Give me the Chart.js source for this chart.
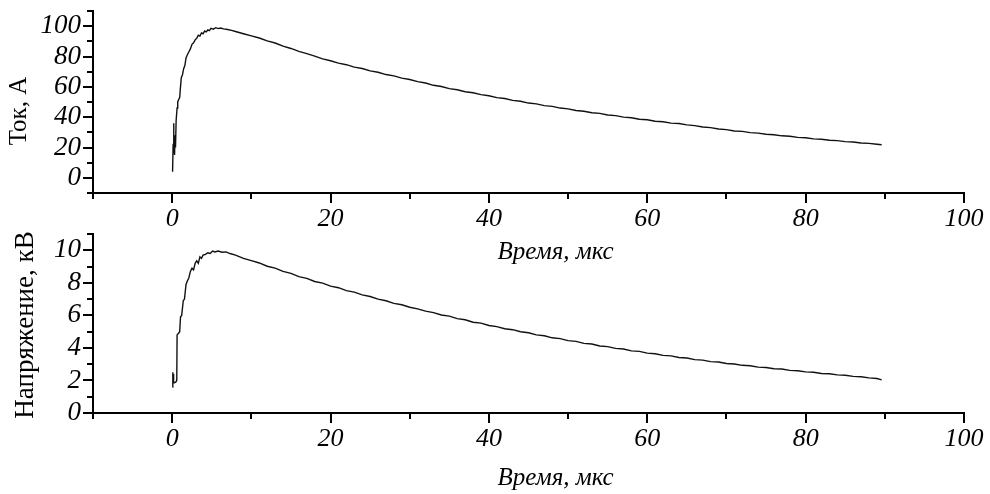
<!DOCTYPE html>
<html>
<head>
<meta charset="utf-8">
<script src="https://cdn.jsdelivr.net/npm/chart.js@4.4.1/dist/chart.umd.min.js"></script>
<style>
  html, body { margin: 0; padding: 0; background: #fff; }
  .box { position: absolute; left: 0; width: 990px; height: 272px; }
  #topBox { top: 0; }
  #bottomBox { top: 222px; }
</style>
</head>
<body>
<div class="box" id="topBox"><canvas id="currentChart"></canvas></div>
<div class="box" id="bottomBox"><canvas id="voltageChart"></canvas></div>
<script>
// Ток, А (время в мкс)
const currentTime = [0.05, 0.12, 0.18, 0.22, 0.3, 0.36, 0.42, 0.5, 0.62, 0.7, 0.85, 0.95, 1.05, 1.15, 1.3, 1.45, 1.6, 1.75, 1.9, 2.1,
  2.3, 2.5, 2.7, 2.9, 3.1, 3.3, 3.5, 3.7, 3.9, 4.1, 4.3, 4.5, 4.7, 4.9, 5.2, 5.5, 5.8, 6.1, 6.5, 7, 7.5, 8,
  9, 10, 11, 12, 13, 14, 15, 16, 17, 18, 19, 20, 21, 22, 23, 24, 25, 26, 27, 28, 29, 30, 31, 32, 33, 34, 35,
  36, 37, 38, 39, 40, 41, 42, 43, 44, 45, 46, 47, 48, 49, 50, 51, 52, 53, 54, 55, 56, 57, 58, 59, 60, 61, 62,
  63, 64, 65, 66, 67, 68, 69, 70, 71, 72, 73, 74, 75, 76, 77, 78, 79, 80, 81, 82, 83, 84, 85, 86, 87, 88, 89, 89.6];
const currentValues = [4, 22, 36, 24, 15, 28, 20, 38, 46, 50, 52, 53, 60, 66, 68, 72, 74, 79, 81, 83,
  85, 88, 89, 91, 92, 94, 93.5, 95.5, 95, 96.8, 96.2, 97.5, 97, 98.5, 98, 99, 98.4, 98.8, 98.2, 97.8, 97.2, 96.5,
  95.0, 93.6, 92.2, 90.3, 88.9, 86.8, 85.3, 83.4, 81.9, 80.3, 78.4, 77.2, 75.6, 74.6, 73.0, 72.1, 70.5, 69.6, 68.1, 67.2, 65.7, 64.8, 63.4, 62.5, 61.0, 60.2, 58.8,
  58.1, 56.8, 56.1, 54.9, 54.1, 52.9, 52.3, 51.1, 50.5, 49.3, 48.8, 47.6, 47.1, 46.0, 45.5, 44.4, 43.9, 42.9, 42.5, 41.4, 41.0, 40.0, 39.6, 38.6, 38.3, 37.3, 37.0,
  36.1, 35.8, 34.9, 34.4, 33.5, 33.1, 32.2, 31.8, 30.9, 30.6, 29.8, 29.5, 28.7, 28.4, 27.7, 27.4, 26.7, 26.4, 25.7, 25.4, 24.8, 24.5, 23.9, 23.6, 23.0, 22.7, 22.1, 21.8];

// Напряжение, кВ
const voltageTime = [0.02, 0.08, 0.12, 0.16, 0.2, 0.45, 0.58, 0.62, 0.8, 0.95, 1.05, 1.2, 1.4, 1.55, 1.75, 1.9, 2.1, 2.3, 2.5, 2.7,
  2.9, 3.1, 3.3, 3.5, 3.7, 3.9, 4.2, 4.5, 4.8, 5.1, 5.4, 5.8, 6.3, 6.8, 7.3, 8,
  9, 10, 11, 12, 13, 14, 15, 16, 17, 18, 19, 20, 21, 22, 23, 24, 25, 26, 27, 28, 29, 30, 31, 32, 33, 34, 35,
  36, 37, 38, 39, 40, 41, 42, 43, 44, 45, 46, 47, 48, 49, 50, 51, 52, 53, 54, 55, 56, 57, 58, 59, 60, 61, 62,
  63, 64, 65, 66, 67, 68, 69, 70, 71, 72, 73, 74, 75, 76, 77, 78, 79, 80, 81, 82, 83, 84, 85, 86, 87, 88, 89, 89.6];
const voltageValues = [1.6, 2.5, 2.1, 2.4, 1.85, 1.9, 2.0, 4.8, 4.9, 5.0, 5.9, 6.0, 6.9, 7.0, 7.9, 8.1, 8.3, 8.7, 8.9, 8.8,
  9.2, 9.35, 9.2, 9.6, 9.5, 9.7, 9.75, 9.85, 9.8, 9.95, 9.9, 9.95, 9.88, 9.9, 9.8, 9.7,
  9.5, 9.36, 9.22, 9.02, 8.9, 8.7, 8.58, 8.38, 8.27, 8.08, 7.98, 7.8, 7.7, 7.52, 7.43, 7.26, 7.16, 7.0, 6.9, 6.74, 6.65, 6.5, 6.4, 6.26, 6.17, 6.02, 5.95,
  5.8, 5.73, 5.58, 5.52, 5.38, 5.31, 5.18, 5.12, 4.99, 4.93, 4.8, 4.75, 4.62, 4.57, 4.45, 4.4, 4.28, 4.24, 4.12, 4.08, 3.97, 3.93, 3.82, 3.79, 3.68, 3.64, 3.54,
  3.51, 3.41, 3.38, 3.28, 3.25, 3.16, 3.13, 3.04, 3.01, 2.93, 2.9, 2.82, 2.8, 2.72, 2.7, 2.62, 2.6, 2.53, 2.5, 2.43, 2.41, 2.34, 2.32, 2.25, 2.23, 2.16, 2.12, 2.04];

const xTitle = 'Время, мкс';
const currentTitle = 'Ток, А';
const voltageTitle = 'Напряжение, кВ';

const serif = 'Liberation Serif';

// ticks drawn outward, longer where there is a label
const axisTicks = {
  id: 'axisTicks',
  afterDraw(chart) {
    const ctx = chart.ctx;
    ctx.save();
    ctx.strokeStyle = '#000';
    ctx.lineWidth = 2;
    ['x', 'y'].forEach(id => {
      const s = chart.scales[id];
      s.ticks.forEach(t => {
        const len = t.label !== '' ? 10 : 6;
        const p = Math.round(s.getPixelForValue(t.value));
        ctx.beginPath();
        if (id === 'x') {
          ctx.moveTo(p, s.top);
          ctx.lineTo(p, s.top + len);
        } else {
          ctx.moveTo(s.right, p);
          ctx.lineTo(s.right - len, p);
        }
        ctx.stroke();
      });
    });
    ctx.restore();
  }
};

const axisTitles = {
  id: 'axisTitles',
  afterDraw(chart, args, opts) {
    const ctx = chart.ctx;
    const area = chart.chartArea;
    ctx.save();
    ctx.fillStyle = '#000';
    ctx.textAlign = 'center';
    ctx.textBaseline = 'middle';
    ctx.font = 'italic 25px "' + serif + '"';
    ctx.fillText(opts.x, (area.left + area.right) / 2 + 27, opts.xY);
    ctx.translate(opts.yX, opts.yY);
    ctx.rotate(-Math.PI / 2);
    ctx.font = opts.ySize + 'px "' + serif + '"';
    ctx.fillText(opts.y, 0, 0);
    ctx.restore();
  }
};

function makeChart(canvasId, times, values, yMin, yMax, yStep, yLabelStep, titles, topPad, areaH) {
  const points = times.map((t, i) => ({ x: t, y: values[i] }));
  return new Chart(document.getElementById(canvasId), {
    type: 'line',
    data: {
      datasets: [{
        data: points,
        borderColor: '#111',
        borderWidth: 1.4,
        pointRadius: 0,
        tension: 0,
        fill: false
      }]
    },
    options: {
      responsive: true,
      maintainAspectRatio: false,
      animation: false,
      layout: { autoPadding: false, padding: { top: topPad, right: 26, left: 0, bottom: 0 } },
      plugins: {
        legend: { display: false },
        tooltip: { enabled: false },
        axisTitles: titles
      },
      scales: {
        x: {
          type: 'linear',
          min: -10,
          max: 100,
          afterFit: s => {
            s.height = 272 - topPad - areaH;
            s.paddingLeft = 0; s.paddingRight = 0;
          },
          grid: { display: false, drawTicks: false },
          border: { display: true, color: '#000', width: 2 },
          ticks: {
            stepSize: 10,
            autoSkip: false,
            maxRotation: 0,
            padding: 11,
            color: '#000',
            font: { family: serif, size: 26, style: 'italic' },
            callback: v => (v % 20 === 0 ? String(v) : '')
          }
        },
        y: {
          min: yMin,
          max: yMax,
          afterFit: s => {
            s.width = 93;
            s.paddingTop = 0; s.paddingBottom = 0;
          },
          grid: { display: false, drawTicks: false },
          border: { display: true, color: '#000', width: 2 },
          ticks: {
            stepSize: yStep,
            autoSkip: false,
            padding: 12,
            color: '#000',
            font: { family: serif, size: 27, style: 'italic' },
            callback: v => (v >= 0 && v <= yMax - yStep && v % yLabelStep === 0 ? String(v) : '')
          }
        }
      }
    },
    plugins: [axisTicks, axisTitles]
  });
}

makeChart('currentChart', currentTime, currentValues, -10, 110, 10, 20,
  { x: xTitle, xY: 252, y: currentTitle, yX: 19, yY: 111, ySize: 25 }, 11, 182);
makeChart('voltageChart', voltageTime, voltageValues, 0, 11, 1, 2,
  { x: xTitle, xY: 256, y: voltageTitle, yX: 26, yY: 103, ySize: 27 }, 12, 179);
</script>
</body>
</html>
